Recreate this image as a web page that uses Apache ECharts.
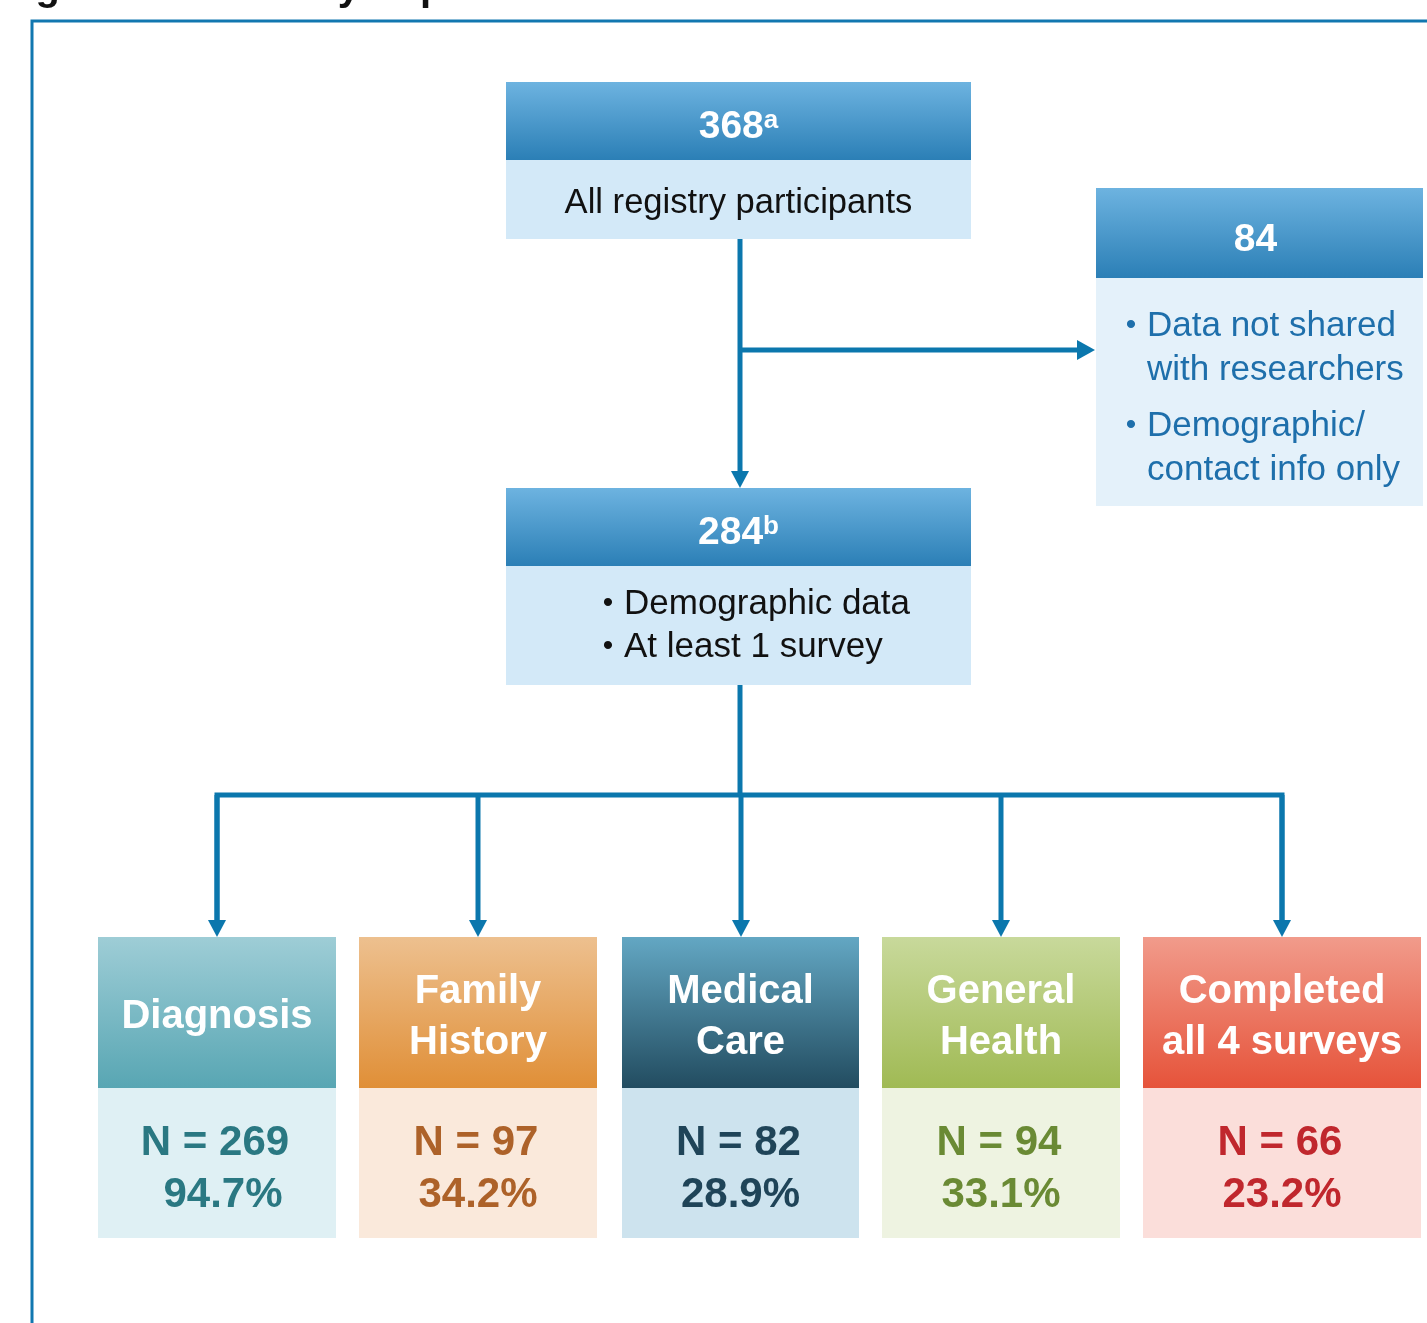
<!DOCTYPE html>
<html>
<head>
<meta charset="utf-8">
<script src="https://cdn.jsdelivr.net/npm/echarts@6/dist/echarts.min.js"></script>
<style>
  html, body { margin: 0; padding: 0; background: #fff; }
  #flow { width: 1427px; height: 1323px; }
</style>
</head>
<body>
<div id="flow"></div>
<script>
// 流程图数据
const titleText = 'Figure 1. Summary of patients';
const topCount = '368';
const topNote = 'a';
const topLabel = 'All registry participants';
const excludedCount = '84';
const excludedReasons = [['Data not shared', 'with researchers'], ['Demographic/', 'contact info only']];
const analyzedCount = '284';
const analyzedNote = 'b';
const analyzedCriteria = ['Demographic data', 'At least 1 survey'];
const surveyNames = [['Diagnosis'], ['Family', 'History'], ['Medical', 'Care'], ['General', 'Health'], ['Completed', 'all 4 surveys']];
const surveyN = [269, 97, 82, 94, 66];
const surveyPct = ['94.7%', '34.2%', '28.9%', '33.1%', '23.2%'];

// 样式
const FONT = '"Liberation Sans", Arial, sans-serif';
const lineColor = '#0b77ad';
const headTop = '#6db3e0', headBottom = '#2b7fb6';
const surveyHeadTop = ['#9ecdd6', '#edc08f', '#63a7c3', '#c8d99b', '#f19b8b'];
const surveyHeadBottom = ['#58a6b3', '#e08f37', '#224c60', '#a0ba54', '#e6533a'];
const surveyBody = ['#dff0f4', '#fae9db', '#cde3ee', '#eef3e1', '#fbdeda'];
const surveyText = ['#2a7882', '#ad6229', '#1f4458', '#6a8a34', '#c0272d'];

// 布局
const boxL = 506, boxW = 465, midX = 740;
const sideL = 1096, sideW = 327;
const surveyLeft = [98, 359, 622, 882, 1143];
const surveyWidth = [238, 238, 237, 238, 278];
const branchY = 795;

const grad = (a, b) => new echarts.graphic.LinearGradient(0, 0, 0, 1, [
  { offset: 0, color: a }, { offset: 1, color: b }
]);
const rect = (x, y, w, h, fill) => ({ type: 'rect', shape: { x, y, width: w, height: h }, style: { fill } });
const txt = (x, y, text, size, color, opts) => ({
  type: 'text', x, y,
  style: Object.assign({
    text, fill: color, font: (opts && opts.bold ? 'bold ' : '') + size + 'px ' + FONT,
    align: 'center', verticalAlign: 'middle'
  }, opts && opts.style)
});
const seg = (pts) => ({ type: 'polyline', shape: { points: pts }, style: { stroke: lineColor, lineWidth: 5, fill: null } });
const arrowDown = (x, tip) => ({ type: 'polygon', shape: { points: [[x - 9, tip - 17], [x + 9, tip - 17], [x, tip]] }, style: { fill: lineColor } });
const arrowRight = (tip, y) => ({ type: 'polygon', shape: { points: [[tip - 18, y - 10], [tip - 18, y + 10], [tip, y]] }, style: { fill: lineColor } });
const headRich = (num, note, y) => ({
  type: 'text', x: boxL + boxW / 2, y,
  style: {
    text: '{n|' + num + '}{s|' + note + '}',
    align: 'center', verticalAlign: 'middle',
    rich: {
      n: { fill: '#fff', font: 'bold 39px ' + FONT },
      s: { fill: '#fff', font: 'bold 26px ' + FONT, verticalAlign: 'top' }
    }
  }
});

const els = [];

// 标题（被裁切）与外框
els.push({ type: 'text', x: 0, y: 9, style: { text: titleText, fill: '#111', font: 'bold 40px ' + FONT, align: 'left', verticalAlign: 'bottom' } });
els.push({ type: 'polyline', shape: { points: [[32, 1330], [32, 21], [1440, 21]] }, style: { stroke: '#1177b0', lineWidth: 3, fill: null } });

// 顶部方框
els.push(rect(boxL, 82, boxW, 78, grad(headTop, headBottom)));
els.push(rect(boxL, 160, boxW, 79, '#d3e9f8'));
els.push(headRich(topCount, topNote, 127));
els.push(txt(boxL + boxW / 2, 203, topLabel, 34.6, '#111'));

// 排除方框
els.push(rect(sideL, 188, sideW, 90, grad(headTop, headBottom)));
els.push(rect(sideL, 278, sideW, 228, '#e4f1fa'));
els.push(txt(sideL + sideW / 2 - 4, 240, excludedCount, 39, '#fff', { bold: true }));
excludedReasons.forEach((lines, i) => {
  const y0 = 326 + i * 100;
  els.push(txt(1131, y0, '•', 30, '#1e6fab'));
  lines.forEach((ln, j) => {
    els.push(txt(1147, y0 + j * 44, ln, 35, '#1e6fab', { style: { align: 'left' } }));
  });
});

// 中间方框
els.push(rect(boxL, 488, boxW, 78, grad(headTop, headBottom)));
els.push(rect(boxL, 566, boxW, 119, '#d3e9f8'));
els.push(headRich(analyzedCount, analyzedNote, 533));
analyzedCriteria.forEach((ln, i) => {
  els.push(txt(608, 604 + i * 43, '•', 30, '#111'));
  els.push(txt(624, 604 + i * 43, ln, 35, '#111', { style: { align: 'left' } }));
});

// 连接线
els.push(seg([[midX, 239], [midX, 472]]));
els.push(arrowDown(midX, 488));
els.push(seg([[midX, 350], [1078, 350]]));
els.push(arrowRight(1095, 350));
const dropX = surveyLeft.map((l, i) => Math.round(l + surveyWidth[i] / 2));
els.push(seg([[midX, 685], [midX, branchY]]));
els.push(seg([[dropX[0], 921], [dropX[0], branchY], [dropX[dropX.length - 1], branchY], [dropX[dropX.length - 1], 921]]));
dropX.forEach((x) => {
  els.push(seg([[x, branchY], [x, 921]]));
  els.push(arrowDown(x, 937));
});

// 五个调查方框
surveyNames.forEach((name, i) => {
  const l = surveyLeft[i], w = surveyWidth[i], cx = l + w / 2;
  els.push(rect(l, 937, w, 151, grad(surveyHeadTop[i], surveyHeadBottom[i])));
  els.push(rect(l, 1088, w, 150, surveyBody[i]));
  const n = name.length;
  name.forEach((ln, j) => {
    els.push(txt(cx, 1017 + (j - (n - 1) / 2) * 51, ln, 40, '#fff', { bold: true }));
  });
  els.push(txt(cx - 2, 1143, 'N = ' + surveyN[i], 42, surveyText[i], { bold: true }));
  els.push(txt(cx + (i === 0 ? 6 : 0), 1195, surveyPct[i], 42, surveyText[i], { bold: true }));
});

const chart = echarts.init(document.getElementById('flow'), null, { renderer: 'canvas' });
chart.setOption({
  backgroundColor: '#fff',
  animation: false,
  graphic: { elements: els }
});
</script>
</body>
</html>
